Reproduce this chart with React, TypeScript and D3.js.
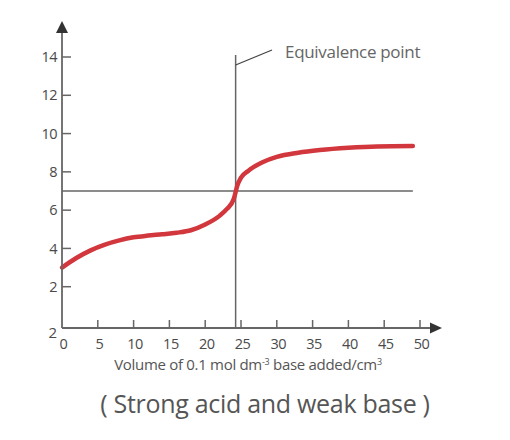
import React from "react";
import * as d3 from "d3";

const volumes = [0, 2, 4, 6, 8, 10, 12, 14, 16, 18, 20, 22, 23, 24, 24.5, 25, 26, 28, 30, 33, 36, 40, 44, 49];
const phValues = [3.0, 3.5, 3.9, 4.2, 4.42, 4.58, 4.67, 4.74, 4.82, 4.95, 5.25, 5.7, 6.05, 6.6, 7.3, 7.7, 8.05, 8.5, 8.78, 9.0, 9.14, 9.26, 9.33, 9.35];

const xTicks = [0, 5, 10, 15, 20, 25, 30, 35, 40, 45, 50];
const yTicks = [2, 4, 6, 8, 10, 12, 14];

const equivalenceVolume = 24.25;
const neutralPh = 7;

const W = 510;
const H = 440;

export default function App() {
    const x = d3.scaleLinear().domain([0, 50]).range([62, 420]);
    const y = d3.scaleLinear().domain([0, 14]).range([325, 57]);
    const axisY = 328;
    const axisColor = "#666";
    const textColor = "#4a4a4a";
    const font = "'Open Sans', 'Noto Sans', sans-serif";

    const points = volumes.map((v, i) => [v, phValues[i]] as [number, number]);
    const line = d3.line<[number, number]>()
        .x(d => x(d[0]))
        .y(d => y(d[1]))
        .curve(d3.curveMonotoneX);

    const eqX = x(equivalenceVolume);

    return (
        <svg width={W} height={H} style={{ position: "absolute", left: 0, top: 0, background: "#fff" }}>
            {/* neutral line and equivalence line */}
            <line x1={x(0)} x2={x(49)} y1={y(neutralPh)} y2={y(neutralPh)} stroke={axisColor} strokeWidth={1.5} />
            <line x1={eqX} x2={eqX} y1={55} y2={axisY} stroke={axisColor} strokeWidth={1.5} />
            <line x1={eqX} y1={65} x2={272} y2={50} stroke="#444" strokeWidth={1.3} />
            <text x={285} y={58} fontFamily={font} fontSize={17} letterSpacing={-0.3} fill="#666">Equivalence point</text>

            {/* titration curve */}
            <path d={line(points) || ""} fill="none" stroke="#d1373d" strokeWidth={4.5} strokeLinecap="round" />

            {/* y axis */}
            <line x1={x(0)} x2={x(0)} y1={axisY} y2={30} stroke={axisColor} strokeWidth={1.8} />
            <path d={`M${x(0) - 6},${33} L${x(0)},${21} L${x(0) + 6},${33} Z`} fill="#333" />
            {yTicks.map(t => (
                <g key={"y" + t}>
                    <line x1={x(0)} x2={x(0) + 9} y1={y(t)} y2={y(t)} stroke={axisColor} strokeWidth={1.5} />
                    <text x={57} y={y(t)} dy="0.35em" textAnchor="end" fontFamily={font} fontSize={14.5} letterSpacing={-0.5} fill={textColor}>{t}</text>
                </g>
            ))}
            <text x={57} y={333} dy="0.35em" textAnchor="end" fontFamily={font} fontSize={15} fill={textColor}>2</text>

            {/* x axis */}
            <line x1={x(0)} x2={432} y1={axisY} y2={axisY} stroke={axisColor} strokeWidth={1.8} />
            <path d={`M${430},${axisY - 5.5} L${442},${axisY} L${430},${axisY + 5.5} Z`} fill="#333" />
            {xTicks.map(t => (
                <g key={"x" + t}>
                    {t > 0 && <line x1={x(t)} x2={x(t)} y1={axisY} y2={axisY - 8} stroke={axisColor} strokeWidth={1.5} />}
                    <text x={x(t) + 1.5} y={343.5} dy="0.35em" textAnchor="middle" fontFamily={font} fontSize={14.5} letterSpacing={-0.5} fill={textColor}>{t}</text>
                </g>
            ))}

            <text x={248} y={365} dy="0.35em" textAnchor="middle" fontFamily={font} fontSize={15} letterSpacing={-0.3} fill="#555">
                Volume of 0.1 mol dm<tspan dy="-5" fontSize={9}>-3</tspan><tspan dy="5"> base added/cm</tspan><tspan dy="-5" fontSize={9}>3</tspan>
            </text>
            <text x={265} y={404} dy="0.35em" textAnchor="middle" fontFamily={font} fontSize={25} letterSpacing={-0.3} fill="#555">( Strong acid and weak base )</text>
        </svg>
    );
}
